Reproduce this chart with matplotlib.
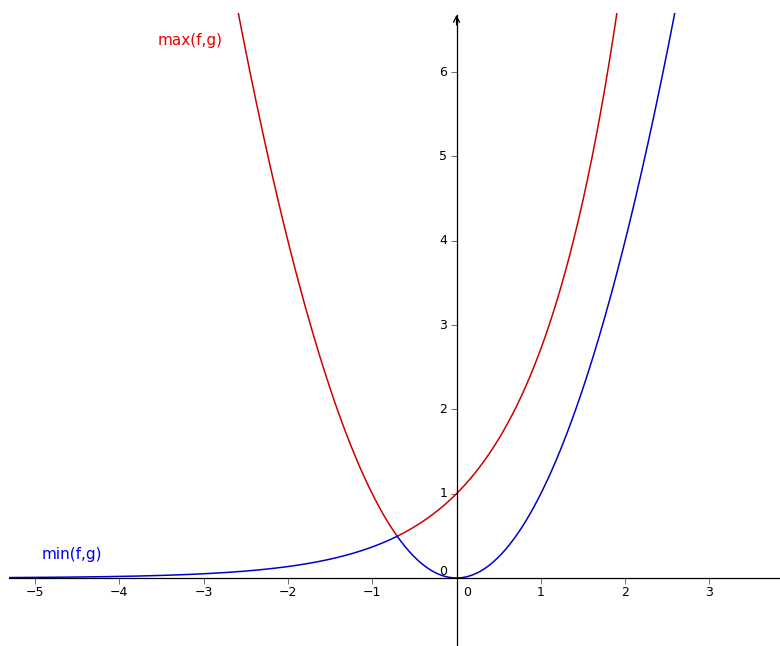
import numpy as np
import matplotlib
matplotlib.use('Agg')
import matplotlib.pyplot as plt
from matplotlib.patches import Rectangle

# view window (data units)
X_MIN, X_MAX = -5.415, 3.837
Y_MIN, Y_MAX = -0.807, 6.856
AXIS_START = -5.31   # where the x axis / curves begin on the left
Y_ARROW = 6.68       # tip of the y axis arrow
CURVE_TOP = 6.706    # curves are cut off here

x_ticks = [-5, -4, -3, -2, -1, 0, 1, 2, 3]
y_ticks = [1, 2, 3, 4, 5, 6]

RED_LINE = '#cc0000'
BLUE_LINE = '#0000cc'
RED_TEXT = '#ee0000'
BLUE_TEXT = '#0000ee'


def f(x):
    return np.exp(x)


def g(x):
    return x ** 2


fig = plt.figure(figsize=(7.8, 6.46), dpi=100)
ax = fig.add_axes([0, 0, 1, 1])
ax.set_xlim(X_MIN, X_MAX)
ax.set_ylim(Y_MIN, Y_MAX)

# axes through the origin
for side in ['top', 'right']:
    ax.spines[side].set_visible(False)
ax.spines['bottom'].set_position(('data', 0))
ax.spines['left'].set_position(('data', 0))
ax.spines['bottom'].set_bounds(AXIS_START, X_MAX)
ax.spines['left'].set_bounds(Y_MIN, Y_ARROW)
for side in ['bottom', 'left']:
    ax.spines[side].set_linewidth(0.9)
    ax.spines[side].set_color('black')
ax.annotate('', xy=(0, Y_ARROW), xytext=(0, Y_ARROW - 0.12),
            arrowprops=dict(arrowstyle='->', lw=0.9, color='black',
                            mutation_scale=11, shrinkA=0, shrinkB=0))

ax.set_xticks(x_ticks)
ax.set_yticks(y_ticks)
ax.tick_params(direction='out', length=4, width=0.6, color='#555555',
               labelbottom=False, labelleft=False)

# tick labels (GeoGebra style placement)
for t in x_ticks:
    dx = 7.9 if t == 0 else 0
    ax.annotate(f'{t}' if t >= 0 else f'\u2212{-t}', xy=(t, 0), xytext=(dx, -10.8),
                textcoords='offset points', ha='center', va='center', fontsize=9)
for t in y_ticks:
    ax.annotate(f'{t}', xy=(0, t), xytext=(-6.8, 0), textcoords='offset points',
                ha='right', va='center', fontsize=9)
ax.annotate('0', xy=(0, 0), xytext=(-9.7, 5), textcoords='offset points',
            ha='center', va='center', fontsize=9)

# curves, cut off at CURVE_TOP
clip = Rectangle((AXIS_START, Y_MIN), X_MAX - AXIS_START, CURVE_TOP - Y_MIN,
                 transform=ax.transData, visible=False)
ax.add_patch(clip)
xs = np.linspace(AXIS_START, X_MAX, 3000)
hi, = ax.plot(xs, np.maximum(f(xs), g(xs)), color=RED_LINE, lw=1.1)
lo, = ax.plot(xs, np.minimum(f(xs), g(xs)), color=BLUE_LINE, lw=1.1)
hi.set_clip_path(clip)
lo.set_clip_path(clip)

ax.text(-3.54, 6.38, 'max(f,g)', color=RED_TEXT, fontsize=11, ha='left', va='center')
ax.text(-4.917, 0.273, 'min(f,g)', color=BLUE_TEXT, fontsize=11, ha='left', va='center')

fig.savefig('out.png', dpi=100)
